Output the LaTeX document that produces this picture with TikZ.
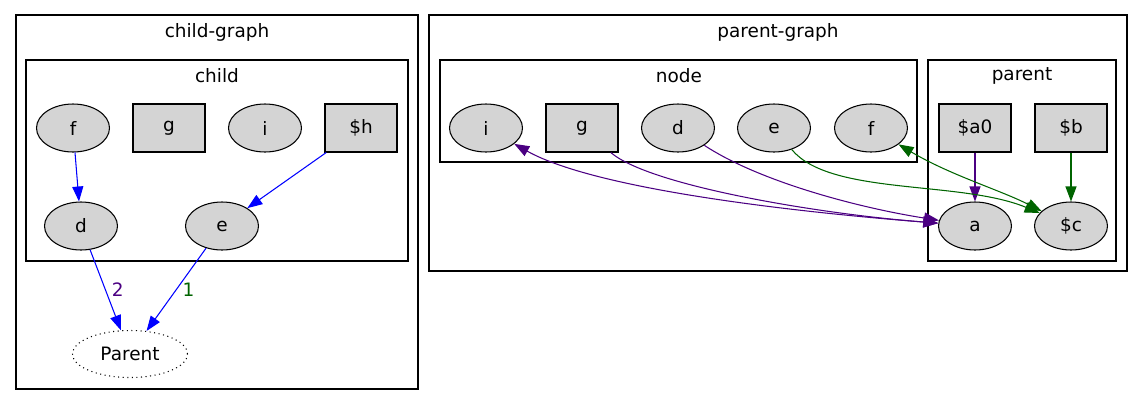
\documentclass[tikz,border=0pt]{standalone}
\usepackage{fontspec}
\setmainfont{DejaVu Sans}
\usetikzlibrary{shapes.geometric,arrows.meta}
\definecolor{edgepurple}{RGB}{75,0,130}
\definecolor{edgegreen}{RGB}{0,100,0}
\tikzset{
  oval/.style={ellipse,draw,fill=black!17,minimum width=1.46cm,minimum height=0.96cm,inner sep=0pt},
  sq/.style={rectangle,draw,fill=black!17,minimum width=1.44cm,minimum height=0.96cm,inner sep=0pt},
  ghost/.style={ellipse,draw,dotted,minimum width=2.3cm,minimum height=0.94cm,inner sep=0pt},
  bedge/.style={draw=blue,->},
  pedge/.style={draw=edgepurple},
  gedge/.style={draw=edgegreen},
}
\begin{document}
\begin{tikzpicture}[x=0.02cm,y=-0.02cm,line width=0.6pt,font=\fontsize{10.5}{12}\selectfont,>={Triangle[length=0.3cm,width=0.22cm]}]
  \useasboundingbox (0,0) rectangle (1144,416);

  % child-graph
  \draw (16,15) rectangle (418,389);
  \node (tchildgraph) at (217,32) {child-graph};
  \draw (26,60) rectangle (408,261);
  \node (tchild) at (217,76) {child};
  \node[oval] (cf) at (73,128) {f};
  \node[sq] (cg) at (169,128) {g};
  \node[oval] (ci) at (265,128) {i};
  \node[sq] (ch) at (361,128) {\$h};
  \node[oval] (cd) at (81,226) {d};
  \node[oval] (ce) at (222,226) {e};
  \node[ghost] (parent) at (130,354) {Parent};

  \draw[bedge] (cf) -- (cd);
  \draw[bedge] (ch) -- (ce);
  \draw[bedge] (cd) -- (parent) node[midway,right=0pt,text=edgepurple] {2};
  \draw[bedge] (ce) -- (parent) node[midway,right=0pt,text=edgegreen] {1};

  % parent-graph
  \draw (429,15) rectangle (1127,271);
  \node (tparentgraph) at (778,32) {parent-graph};
  \draw (440,60) rectangle (917,162);
  \node (tnode) at (679,76) {node};
  \draw (928,60) rectangle (1116,261);
  \node (tparent) at (1022,76) {parent};

  \node[oval] (ni) at (486,128) {i};
  \node[sq] (ng) at (582,128) {g};
  \node[oval] (nd) at (678,128) {d};
  \node[oval] (ne) at (774,128) {e};
  \node[oval] (nf) at (871,128) {f};
  \node[sq] (a0) at (975,128) {\$a0};
  \node[sq] (b) at (1071,128) {\$b};
  \node[oval] (a) at (975,226) {a};
  \node[oval] (c) at (1071,226) {\$c};

  \draw[pedge,->] (a0) -- (a);
  \draw[gedge,->] (b) -- (c);
  \draw[pedge,<->] (ni) .. controls (600,192) and (820,214) .. (a);
  \draw[pedge,->] (ng) .. controls (650,186) and (820,214) .. (a);
  \draw[pedge,->] (nd) .. controls (760,182) and (860,208) .. (a);
  \draw[gedge,->] (ne) .. controls (830,196) and (960,180) .. (c);
  \draw[gedge,<->] (nf) .. controls (950,175) and (1000,190) .. (c);
\end{tikzpicture}
\end{document}
